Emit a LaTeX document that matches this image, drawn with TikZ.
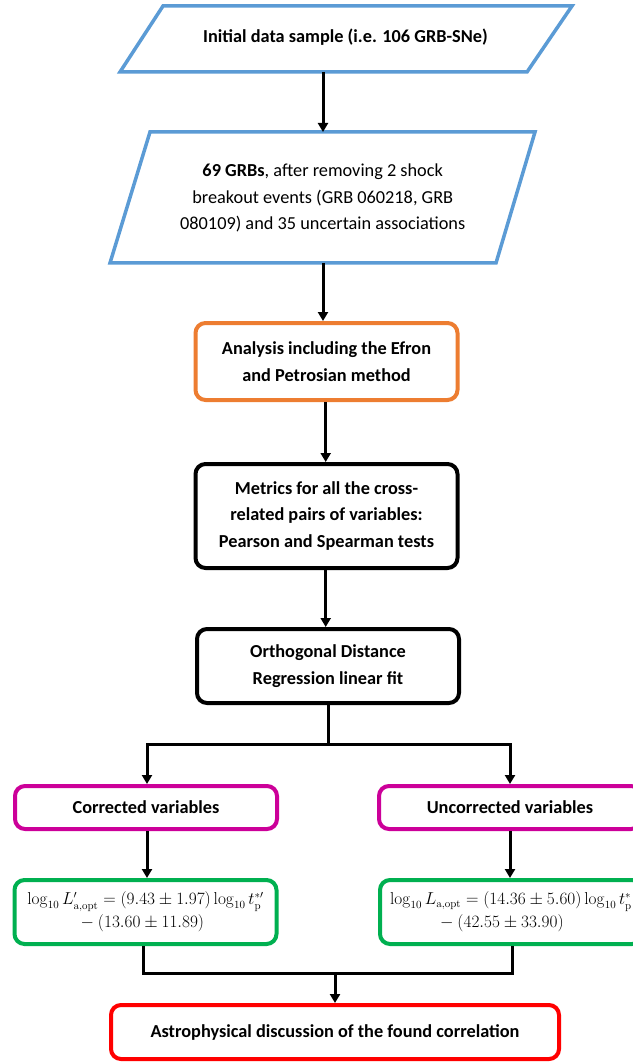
\documentclass[tikz,border=0pt]{standalone}
\usepackage[no-math]{fontspec}
\setmainfont{Carlito}
\usetikzlibrary{arrows.meta}
\definecolor{pblue}{RGB}{91,155,213}
\definecolor{porange}{RGB}{237,125,49}
\definecolor{pmagenta}{RGB}{204,0,153}
\definecolor{pgreen}{RGB}{0,176,80}
\definecolor{pred}{RGB}{255,0,0}
\begin{document}
\begin{tikzpicture}[x=1pt,y=-1pt,
  txt/.style={font=\fontsize{18.3}{26.5}\selectfont\bfseries, align=center, inner sep=0pt},
  plain/.style={font=\fontsize{18.3}{26.5}\selectfont, align=center, inner sep=0pt},
  para/.style={draw=pblue, line width=3.5pt, line join=miter},
  rbox/.style={draw, line width=4pt, rounded corners=10pt, minimum width=262pt, inner sep=0pt, fill=white,
    font=\fontsize{18.3}{26.5}\selectfont\bfseries, align=center},
  mathbox/.style={draw=pgreen, line width=4pt, rounded corners=10pt, minimum width=262pt, minimum height=64pt, inner sep=0pt,
    font=\fontsize{16.2}{23}\selectfont, align=center},
  arr/.style={line width=3pt, -{Triangle[width=10pt,length=9pt]}},
  lin/.style={line width=3pt}
]
\useasboundingbox (0,0) rectangle (632,1064);
% parallelogram 1
\draw[para] (163,6) -- (572,6) -- (527,72) -- (120,72) -- cycle;
\node[txt] (b1) at (345.5,37) {Initial data sample (i.e. 106 GRB-SNe)};
\coordinate (b1s) at (323,72);
% parallelogram 2
\draw[para] (150,132) -- (535,132) -- (496,263) -- (110,263) -- cycle;
\node[plain] (b2) at (322.7,198) {\textbf{69 GRBs}, after removing 2 shock\\breakout events (GRB 060218, GRB\\080109) and 35 uncertain associations};
\coordinate (b2n) at (323,132);
\coordinate (b2s) at (323,263);
% boxes
\node[rbox, draw=porange, minimum height=77pt] (b3) at (326.5,361.5) {Analysis including the Efron\\and Petrosian method};
\node[rbox, minimum height=104pt] (b4) at (326.5,516) {Metrics for all the cross-\\related pairs of variables:\\Pearson and Spearman tests};
\node[rbox, minimum height=74pt] (b5) at (328,666) {Orthogonal Distance\\Regression linear fit};
\node[rbox, draw=pmagenta, minimum height=43pt] (c1) at (146,807.5) {Corrected variables};
\node[rbox, draw=pmagenta, minimum height=43pt] (u1) at (510,807.5) {Uncorrected variables};
\node[mathbox] (c2) at (145.5,912) {$\log_{10} L'_{\mathrm{a,opt}} = (9.43 \pm 1.97)\log_{10} t_{\mathrm{p}}^{*\prime}$\\${}-(13.60 \pm 11.89)$\hspace*{10pt}};
\node[mathbox] (u2) at (511,912) {$\log_{10} L_{\mathrm{a,opt}} = (14.36 \pm 5.60)\log_{10} t_{\mathrm{p}}^{*}$\\${}-(42.55 \pm 33.90)$\hspace*{22pt}};
\node[rbox, draw=pred, minimum width=448pt, minimum height=54pt] (b8) at (335,1032) {Astrophysical discussion of the found correlation};
% connectors
\draw[arr] (b1s) -- (b2n);
\draw[arr] (b2s) -- (b3.north -| b2s);
\draw[arr] (b3.south -| 325.7,0) -- (b4.north -| 325.7,0);
\draw[arr] (b4.south -| 325.7,0) -- (b5.north -| 325.7,0);
\coordinate (split) at (328,744);
\draw[lin] (b5.south -| split) -- (split);
\draw[arr] (split) -| (c1.north -| 147,0);
\draw[arr] (split) -| (u1.north -| 510,0);
\draw[arr] (c1.south -| 147,0) -- (c2.north -| 147,0);
\draw[arr] (u1.south -| 510,0) -- (u2.north -| 510,0);
\coordinate (join) at (335,973);
\draw[lin] (c2.south -| 143,0) |- (join);
\draw[lin] (u2.south -| 512,0) |- (join);
\draw[arr] (join) -- (b8.north -| join);
\end{tikzpicture}
\end{document}
